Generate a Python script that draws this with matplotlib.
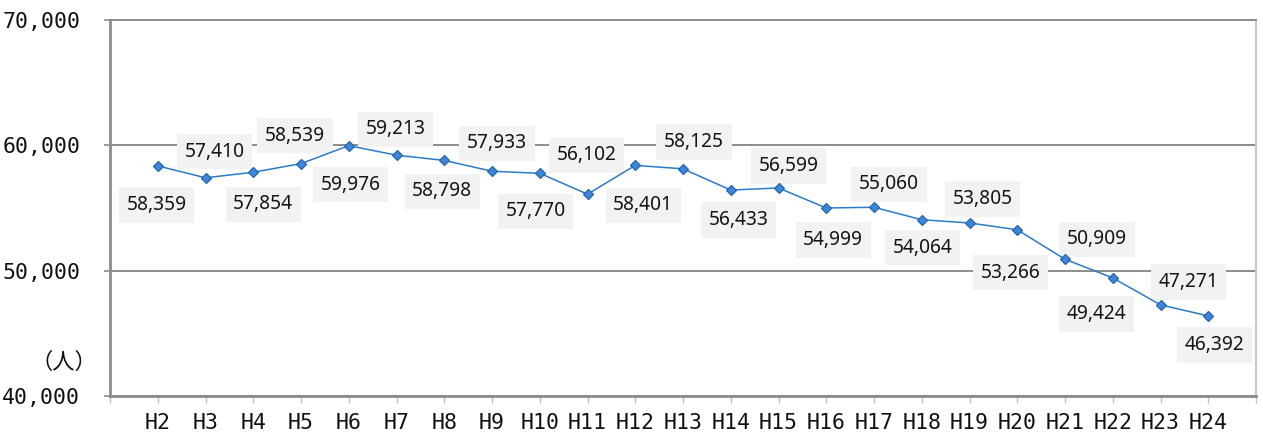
import matplotlib
matplotlib.use('Agg')
import matplotlib.pyplot as plt
import numpy as np

# ---- data ----
categories = ['H2', 'H3', 'H4', 'H5', 'H6', 'H7', 'H8', 'H9', 'H10', 'H11', 'H12',
              'H13', 'H14', 'H15', 'H16', 'H17', 'H18', 'H19', 'H20', 'H21', 'H22',
              'H23', 'H24']
population = [58359, 57410, 57854, 58539, 59976, 59213, 58798, 57933, 57770, 56102,
              58401, 58125, 56433, 56599, 54999, 55060, 54064, 53805, 53266, 50909,
              49424, 47271, 46392]
y_ticks = [40000, 50000, 60000, 70000]
y_tick_labels = ['40,000', '50,000', '60,000', '70,000']
unit_label = '（人）'

# ---- layout: data-label offsets (pixels right / down from the marker to the label centre) ----
label_offsets = [(-1, 37), (9, -28), (10, 30), (-6, -30), (2, 37), (-1, -28), (-2, 29),
                 (5, -30), (-4, 36), (-1, -41), (8, 38), (11, -29), (8, 28), (10, -24),
                 (7, 30), (15, -25), (1, 26), (13, -26), (-7, 41), (32, -22), (-16, 34),
                 (28, -25), (6, 27)]

W, H = 1263, 441
fig = plt.figure(figsize=(W / 100, H / 100), dpi=100)
ax = fig.add_axes([110 / W, 1 - 396 / H, 1146 / W, 376 / H])

x = np.arange(1, len(categories) + 1)
ax.plot(x, population, color='#2b7bcb', lw=1.1, marker='D', ms=5.4,
        mfc='#3f87d6', mec='#2465ad', mew=0.9, zorder=5, clip_on=False)

ax.set_xlim(0, len(categories) + 1)
ax.set_ylim(y_ticks[0], y_ticks[-1])
ax.set_yticks(y_ticks, y_tick_labels)
ax.set_xticks(x, categories)
ax.set_xticks([0, len(categories) + 1], minor=True)

ax.grid(axis='y', color='#8c8c8c', lw=1.4)
ax.set_axisbelow(True)

for side in ['left', 'bottom']:
    ax.spines[side].set_color('#8c8c8c')
    ax.spines[side].set_linewidth(2.0)
ax.spines['top'].set_color('#8c8c8c')
ax.spines['top'].set_linewidth(1.4)
ax.spines['right'].set_color('#c8c8c8')
ax.spines['right'].set_linewidth(1.5)

ax.tick_params(axis='y', length=4.5, width=1.2, color='#8c8c8c', pad=17,
               labelsize=15.5, labelcolor='#111111')
ax.tick_params(axis='x', which='both', length=5, width=1.0, color='#c0c0c0', pad=7,
               labelsize=15.5, labelcolor='#111111')
for lbl in ax.get_xticklabels() + ax.get_yticklabels():
    lbl.set_family('DejaVu Sans Mono')

for xi, v, (dx, dy) in zip(x, population, label_offsets):
    ax.annotate(f'{v:,}', (xi, v), xytext=(dx, -(dy + 7)), textcoords='offset pixels',
                ha='center', va='baseline', fontsize=13.8, family='Noto Sans',
                color='#141414', zorder=4, annotation_clip=False,
                bbox=dict(boxstyle='square,pad=0.4', fc='#f2f2f2', ec='none'))

fig.text(64 / W, 1 - 362 / H, unit_label, ha='center', va='center', fontsize=16,
         family=['Noto Sans CJK JP', 'DejaVu Sans'], color='#111111')

fig.savefig('out.png', dpi=100)
